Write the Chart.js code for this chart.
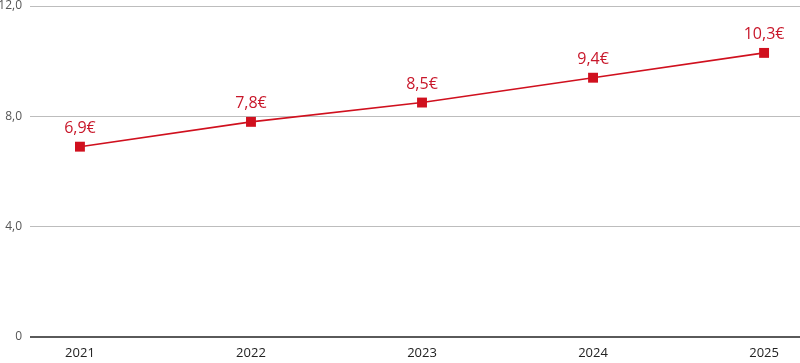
<!DOCTYPE html>
<html>
<head>
<meta charset="utf-8">
<script src="https://cdn.jsdelivr.net/npm/chart.js@4/dist/chart.umd.min.js"></script>
<style>
  html, body { margin: 0; padding: 0; background: #fff; }
  #wrap { width: 800px; height: 363px; position: relative; }
</style>
</head>
<body>
<div id="wrap"><canvas id="chart"></canvas></div>
<script>
// Data
const years = [2021, 2022, 2023, 2024, 2025];
const values = [6.9, 7.8, 8.5, 9.4, 10.3];
const yTicks = [0, 4, 8, 12];

const red = '#d0101e';

Chart.defaults.font.family = "'Open Sans', 'Noto Sans', sans-serif";

// value labels above each point
const valueLabels = {
  id: 'valueLabels',
  afterDatasetsDraw(chart) {
    const ctx = chart.ctx;
    const meta = chart.getDatasetMeta(0);
    ctx.save();
    ctx.fillStyle = '#c8172a';
    ctx.font = "16px 'Open Sans', 'Noto Sans', sans-serif";
    ctx.textAlign = 'center';
    ctx.textBaseline = 'bottom';
    meta.data.forEach((pt, i) => {
      ctx.fillText(values[i].toFixed(1).replace('.', ',') + '€', pt.x, pt.y - 10);
    });
    ctx.restore();
  }
};

new Chart(document.getElementById('chart'), {
  type: 'line',
  data: {
    datasets: [{
      data: years.map((y, i) => ({ x: y, y: values[i] })),
      borderColor: red,
      backgroundColor: red,
      borderWidth: 1.6,
      pointStyle: 'rect',
      pointRadius: 7,
      pointBorderWidth: 0,
      tension: 0
    }]
  },
  options: {
    responsive: true,
    maintainAspectRatio: false,
    animation: false,
    layout: { autoPadding: false, padding: { top: 6, left: 0, right: 0, bottom: 0 } },
    plugins: {
      legend: { display: false },
      tooltip: { enabled: false }
    },
    scales: {
      x: {
        type: 'linear',
        min: 2020.708,
        max: 2025.21,
        afterBuildTicks: axis => { axis.ticks = years.map(v => ({ value: v })); },
        afterFit: axis => {
          axis.height = 26;
          axis.paddingLeft = 0;
          axis.paddingRight = 0;
        },
        grid: { display: false, drawTicks: false },
        border: { display: false },
        ticks: {
          padding: 8,
          color: '#222',
          font: { size: 13 },
          callback: v => String(v)
        }
      },
      y: {
        min: 0,
        max: 12,
        afterBuildTicks: axis => { axis.ticks = yTicks.map(v => ({ value: v })); },
        afterFit: axis => {
          axis.width = 30;
          axis.paddingTop = 0;
          axis.paddingBottom = 0;
        },
        border: { display: false },
        grid: {
          drawTicks: false,
          color: c => c.tick && c.tick.value === 0 ? '#5a5a5a' : '#bdbdbd',
          lineWidth: c => c.tick && c.tick.value === 0 ? 2 : 1
        },
        ticks: {
          padding: 8,
          color: '#555',
          font: { size: 12 },
          callback: v => v === 0 ? '0' : v.toFixed(1).replace('.', ',')
        }
      }
    }
  },
  plugins: [valueLabels]
});
</script>
</body>
</html>
